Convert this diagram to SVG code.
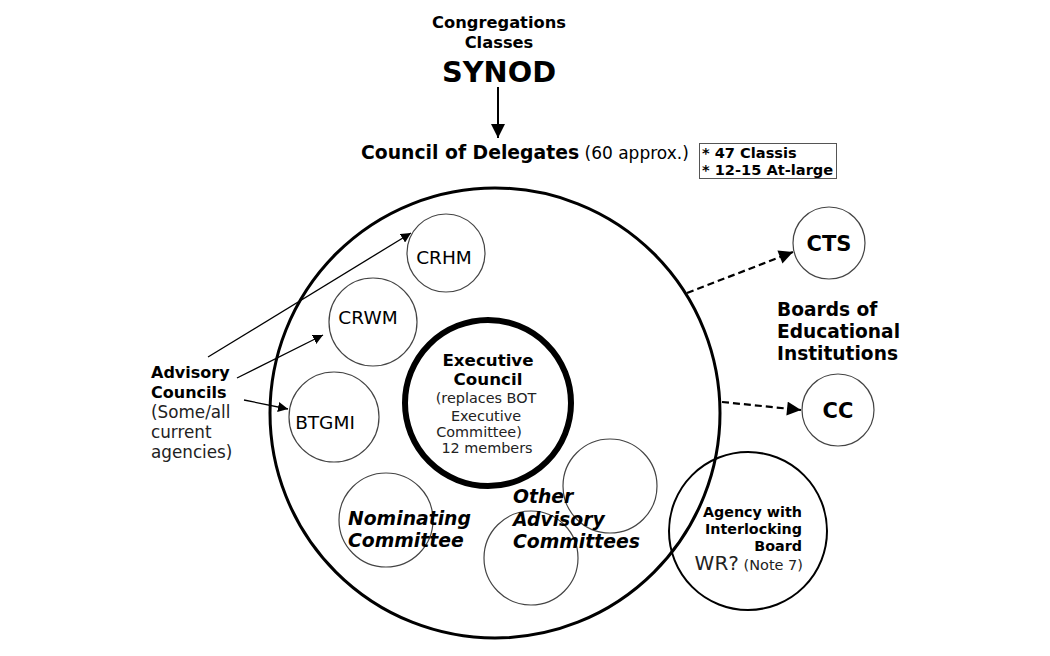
<svg xmlns="http://www.w3.org/2000/svg" width="1050" height="656" viewBox="0 0 1050 656">
<style>
text{font-family:"DejaVu Sans",Verdana,sans-serif;fill:#000}
.b{font-weight:bold}
.bi{font-weight:bold;font-style:italic}
.thin{fill:none;stroke:#444;stroke-width:1.2}
.conn{stroke:#000;stroke-width:1.3;fill:none}
.dash{stroke:#000;stroke-width:2.2;fill:none;stroke-dasharray:7,4}
.gray{fill:#222}
</style>
<defs>
<marker id="ah" viewBox="0 0 10 10" refX="10" refY="5" markerWidth="10" markerHeight="10" markerUnits="userSpaceOnUse" orient="auto"><path d="M0,0L10,5L0,10z" fill="#000"/></marker>
<marker id="ahl" viewBox="0 0 10 10" refX="10" refY="5" markerWidth="16" markerHeight="14" markerUnits="userSpaceOnUse" orient="auto"><path d="M0,0L10,5L0,10z" fill="#000"/></marker>
</defs>
<rect width="1050" height="656" fill="#fff"/>
<g id="synod">
<text class="b" x="499" y="28" font-size="16.3" text-anchor="middle">Congregations</text>
<text class="b" x="499" y="48" font-size="16.3" text-anchor="middle">Classes</text>
<text class="b" x="499" y="82" font-size="28.8" text-anchor="middle">SYNOD</text>
</g>
<g id="council-of-delegates">
<text x="361" y="159"><tspan class="b" font-size="18.8">Council of Delegates</tspan><tspan font-size="17"> (60 approx.)</tspan></text>
<rect x="699.5" y="143.5" width="137" height="35" fill="none" stroke="#555" stroke-width="1"/>
<text class="b" x="702" y="158" font-size="14.6">* 47 Classis</text>
<text class="b" x="702" y="175" font-size="14.6">* 12-15 At-large</text>
</g>
<g id="big-circle">
<circle cx="495" cy="413" r="225" fill="none" stroke="#000" stroke-width="3"/>
</g>
<g id="crhm">
<circle class="thin" cx="446" cy="253" r="39"/>
<text x="444" y="264" font-size="18.5" text-anchor="middle">CRHM</text>
</g>
<g id="crwm">
<circle class="thin" cx="373" cy="322" r="44"/>
<text x="368" y="324" font-size="18.5" text-anchor="middle">CRWM</text>
</g>
<g id="btgmi">
<circle class="thin" cx="334" cy="417" r="45"/>
<text x="325" y="429" font-size="18.5" text-anchor="middle">BTGMI</text>
</g>
<g id="executive-council">
<circle cx="488" cy="403" r="83" fill="none" stroke="#000" stroke-width="6"/>
<text class="b" x="488" y="366" font-size="16.7" text-anchor="middle">Executive</text>
<text class="b" x="488" y="385" font-size="16.7" text-anchor="middle">Council</text>
<text class="gray" x="486" y="403" font-size="14.4" text-anchor="middle">(replaces BOT</text>
<text class="gray" x="486" y="421" font-size="14.4" text-anchor="middle">Executive</text>
<text class="gray" x="479" y="437" font-size="14.4" text-anchor="middle">Committee)</text>
<text class="gray" x="487" y="453" font-size="14.4" text-anchor="middle">12 members</text>
</g>
<g id="nominating-committee">
<circle class="thin" cx="386" cy="520" r="47"/>
<text class="bi" x="348" y="525" font-size="18.8">Nominating</text>
<text class="bi" x="348" y="547" font-size="18.8">Committee</text>
</g>
<g id="other-advisory-committees">
<circle class="thin" cx="531" cy="558" r="47"/>
<circle class="thin" cx="610" cy="486" r="47"/>
<text class="bi" x="513" y="503" font-size="18.8">Other</text>
<text class="bi" x="513" y="526" font-size="18.8">Advisory</text>
<text class="bi" x="513" y="548" font-size="18.8">Committees</text>
</g>
<g id="agency">
<circle cx="748" cy="531" r="79" fill="none" stroke="#000" stroke-width="2"/>
<text class="b" x="802" y="517" font-size="14.3" text-anchor="end">Agency with</text>
<text class="b" x="802" y="534" font-size="14.3" text-anchor="end">Interlocking</text>
<text class="b" x="802" y="551" font-size="14.3" text-anchor="end">Board</text>
<text x="803" y="570" text-anchor="end"><tspan font-size="20" class="gray">WR?</tspan><tspan font-size="14.5" class="gray"> (Note 7)</tspan></text>
</g>
<g id="cts">
<circle class="thin" cx="829" cy="243" r="36"/>
<text class="b" x="829" y="251" font-size="21" text-anchor="middle">CTS</text>
</g>
<g id="cc">
<circle class="thin" cx="838" cy="410" r="36"/>
<text class="b" x="838" y="418" font-size="21" text-anchor="middle">CC</text>
</g>
<g id="boards-label">
<text class="b" x="777" y="316" font-size="18.6">Boards of</text>
<text class="b" x="777" y="338" font-size="18.6">Educational</text>
<text class="b" x="777" y="360" font-size="18.6">Institutions</text>
</g>
<g id="advisory-label">
<text class="b" x="151" y="378" font-size="16">Advisory</text>
<text class="b" x="151" y="398" font-size="16">Councils</text>
<text class="gray" x="151" y="418" font-size="16.8">(Some/all</text>
<text class="gray" x="151" y="438" font-size="16.8">current</text>
<text class="gray" x="151" y="458" font-size="16.8">agencies)</text>
</g>
<g id="connectors">
<line x1="498" y1="87" x2="498" y2="138" stroke="#000" stroke-width="2" marker-end="url(#ahl)"/>
<line class="conn" x1="208" y1="357" x2="411" y2="233" marker-end="url(#ah)"/>
<line class="conn" x1="237" y1="378" x2="323" y2="335" marker-end="url(#ah)"/>
<line class="conn" x1="244" y1="400" x2="288" y2="409" marker-end="url(#ah)"/>
<line class="dash" x1="687" y1="293" x2="793" y2="252" marker-end="url(#ahl)"/>
<line class="dash" x1="722" y1="402" x2="801" y2="410" marker-end="url(#ahl)"/>
</g>
</svg>
